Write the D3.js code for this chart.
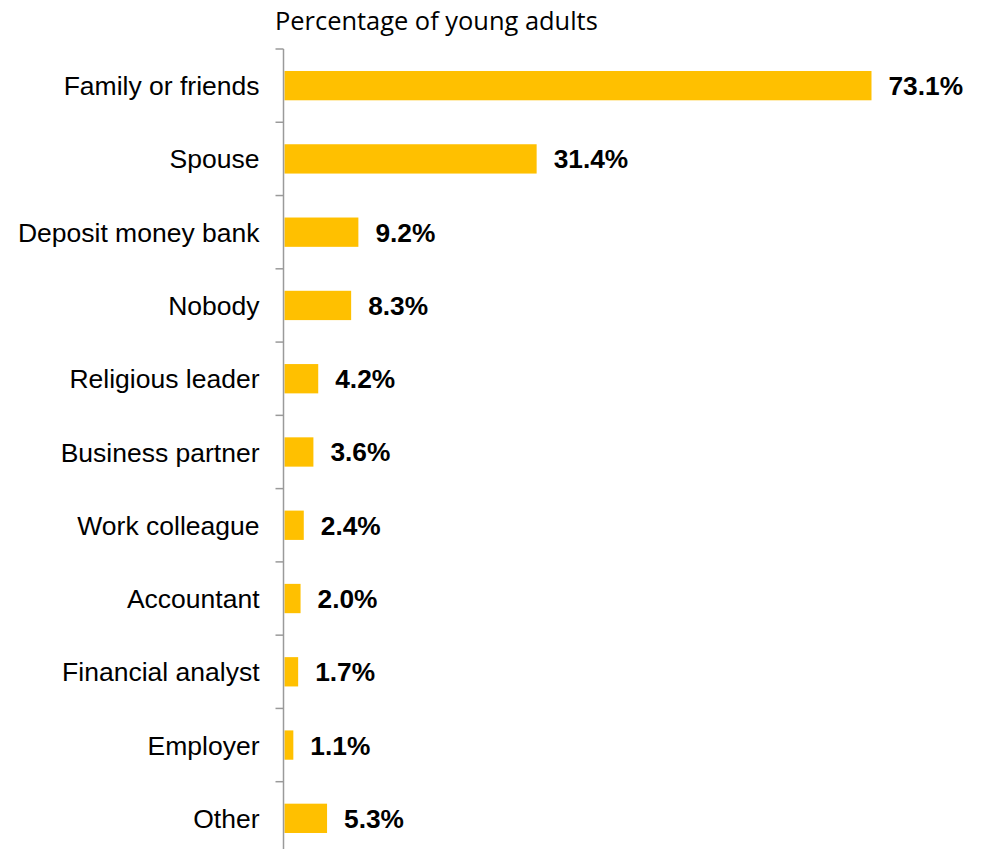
<!DOCTYPE html>
<html>
<head>
<meta charset="utf-8">
<script src="https://cdn.jsdelivr.net/npm/d3@7"></script>
<style>
  html, body { margin: 0; padding: 0; background: #ffffff; }
  svg { display: block; }
</style>
</head>
<body>
<div id="chart"></div>
<script>
// Who young adults turn to — share of respondents per source
const categories = [
  "Family or friends", "Spouse", "Deposit money bank", "Nobody",
  "Religious leader", "Business partner", "Work colleague", "Accountant",
  "Financial analyst", "Employer", "Other"
];
const values = [73.1, 31.4, 9.2, 8.3, 4.2, 3.6, 2.4, 2.0, 1.7, 1.1, 5.3];
const axisTitle = "Percentage of young adults";

const width = 982, height = 849;
const axisX = 284.5;
const plotTop = 49;
const step = 73.27;

const svg = d3.select("#chart").append("svg")
  .attr("width", width)
  .attr("height", height);

const x = d3.scaleLinear()
  .domain([0, 80])
  .range([axisX, axisX + 80 * 8.03]);

const y = d3.scaleBand()
  .domain(categories)
  .range([plotTop, plotTop + step * categories.length])
  .paddingInner(0.6)
  .paddingOuter(0.3);

// Bars
svg.append("g")
  .selectAll("rect")
  .data(categories)
  .join("rect")
  .attr("x", x(0))
  .attr("y", d => y(d))
  .attr("width", (d, i) => x(values[i]) - x(0))
  .attr("height", y.bandwidth())
  .attr("fill", "#FFC000");

// Category axis with ticks on band boundaries
const axisG = svg.append("g");
axisG.append("line")
  .attr("x1", axisX - 1).attr("x2", axisX - 1)
  .attr("y1", plotTop).attr("y2", height + 5)
  .attr("stroke", "#9a9a9a")
  .attr("stroke-width", 1.5);

const boundaries = d3.range(categories.length + 1).map(i => plotTop + i * step);
axisG.selectAll(".tick")
  .data(boundaries)
  .join("line")
  .attr("class", "tick")
  .attr("x1", axisX - 9).attr("x2", axisX - 1)
  .attr("y1", d => d).attr("y2", d => d)
  .attr("stroke", "#9a9a9a")
  .attr("stroke-width", 1.5);

// Category labels
svg.append("g")
  .selectAll("text")
  .data(categories)
  .join("text")
  .attr("x", 259.5)
  .attr("y", d => y(d) + y.bandwidth() / 2)
  .attr("dy", "0.36em")
  .attr("text-anchor", "end")
  .attr("font-family", "'Liberation Sans', Arial, sans-serif")
  .attr("font-size", 26.5)
  .attr("fill", "#000")
  .text(d => d);

// Value labels
svg.append("g")
  .selectAll("text")
  .data(categories)
  .join("text")
  .attr("x", (d, i) => x(values[i]) + 17)
  .attr("y", d => y(d) + y.bandwidth() / 2)
  .attr("dy", "0.36em")
  .attr("font-family", "'Liberation Sans', Arial, sans-serif")
  .attr("font-weight", "bold")
  .attr("font-size", 26.3)
  .attr("fill", "#000")
  .text((d, i) => values[i].toFixed(1) + "%");

// Axis title, sized to span its intended width
const title = svg.append("text")
  .attr("x", 275)
  .attr("y", 30)
  .attr("font-family", "'Open Sans', 'Noto Sans', sans-serif")
  .attr("font-size", 22)
  .attr("fill", "#000")
  .text(axisTitle);
const tw = title.node().getComputedTextLength();
title.attr("font-size", 22 * 323 / tw);
</script>
</body>
</html>
